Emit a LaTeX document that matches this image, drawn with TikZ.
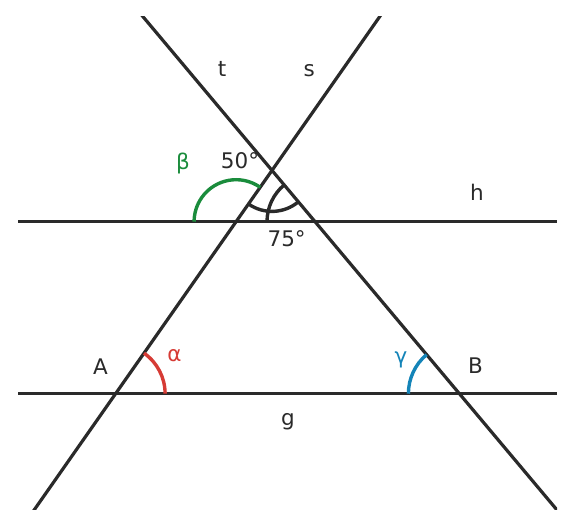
\documentclass[tikz,border=0pt]{standalone}
\usepackage{fontspec}
\setmainfont{DejaVu Sans}
\usetikzlibrary{calc}
\definecolor{ink}{HTML}{2A2A2A}
\definecolor{ared}{HTML}{D63B35}
\definecolor{agreen}{HTML}{1A8C3C}
\definecolor{ablue}{HTML}{1484B8}
\tikzset{
  geoline/.style={draw=ink, line width=3.2pt},
  anglearc/.style={line width=3.4pt},
  lbl/.style={inner sep=0pt, text=ink, font=\fontsize{21.5}{26}\selectfont},
}
\begin{document}
\begin{tikzpicture}[x=1pt,y=1pt]
\useasboundingbox (0,0) rectangle (576,528);
% key points (y measured upward)
\coordinate (P) at (272,357.6);
\coordinate (A) at (115.6,134.3);
\coordinate (B) at (459.4,134.3);
\coordinate (S1) at (236.1,306.3);
\coordinate (T1) at (315.0,306.3);
\coordinate (hL) at (18,306.3);
\coordinate (hR) at (557,306.3);
\coordinate (gL) at (18,134.3);
\coordinate (gR) at (557,134.3);
\begin{scope}
  \clip (18,19) rectangle (557,511);
  \draw[geoline] (hL) -- (hR);
  \draw[geoline] (gL) -- (gR);
  \draw[geoline] ($(A)!-1!(P)$) -- ($(A)!3!(P)$);
  \draw[geoline] ($(B)!-1!(P)$) -- ($(B)!3!(P)$);
\end{scope}
% angle arcs
\draw[anglearc, draw=ared] ([shift={(0:49.5)}]A) arc[start angle=0, end angle=55, radius=49.5];
\draw[anglearc, draw=ablue] ([shift={(130:51)}]B) arc[start angle=130, end angle=180, radius=51];
\draw[anglearc, draw=agreen] ([shift={(55:42)}]S1) arc[start angle=55, end angle=180, radius=42];
\draw[anglearc, draw=ink] ([shift={(235:41)}]P) arc[start angle=235, end angle=310, radius=41];
\draw[anglearc, draw=ink] ([shift={(130:48)}]T1) arc[start angle=130, end angle=180, radius=48];
% labels
\node[lbl] (lt) at (222,458.8) {t};
\node[lbl] (ls) at (309.2,457.2) {s};
\node[lbl] (lh) at (477,335.2) {h};
\node[lbl] (lg) at (288,106) {g};
\node[lbl] (lA) at (100.5,161.3) {A};
\node[lbl] (lB) at (475.5,162) {B};
\node[lbl, text=ared] (lal) at (174.5,172.2) {α};
\node[lbl, text=ablue] (lga) at (401,168.5) {γ};
\node[lbl, text=agreen] (lbe) at (183,364) {β};
\node[lbl] (l50) at (240,367) {50°};
\node[lbl] (l75) at (286.7,289) {75°};
\end{tikzpicture}
\end{document}
